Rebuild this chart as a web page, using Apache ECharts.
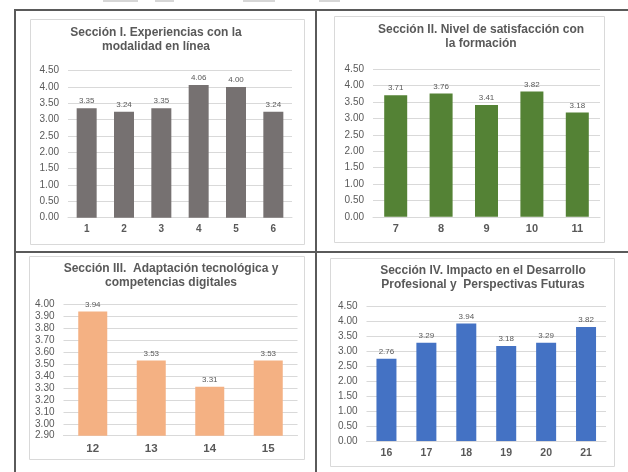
<!DOCTYPE html>
<html>
<head>
<meta charset="utf-8">
<script src="https://cdn.jsdelivr.net/npm/echarts@6/dist/echarts.min.js"></script>
<style>
  html, body { margin: 0; padding: 0; background: #fff; }
  #main { width: 628px; height: 472px; }
</style>
</head>
<body>
<div id="main"></div>
<script>
// datos de cada sección
var cats1 = ['1', '2', '3', '4', '5', '6'];
var vals1 = [3.35, 3.24, 3.35, 4.06, 4.00, 3.24];
var cats2 = ['7', '8', '9', '10', '11'];
var vals2 = [3.71, 3.76, 3.41, 3.82, 3.18];
var cats3 = ['12', '13', '14', '15'];
var vals3 = [3.94, 3.53, 3.31, 3.53];
var cats4 = ['16', '17', '18', '19', '20', '21'];
var vals4 = [2.76, 3.29, 3.94, 3.18, 3.29, 3.82];

var titles = [
  'Sección I. Experiencias con la\nmodalidad en línea',
  'Sección II. Nivel de satisfacción con\nla formación',
  'Sección III.  Adaptación tecnológica y\ncompetencias digitales',
  'Sección IV. Impacto en el Desarrollo\nProfesional y  Perspectivas Futuras'
];

var FONT = '"Liberation Sans", Arial, sans-serif';
var GREY = '#595959';

var myChart = echarts.init(document.getElementById('main'));

function mkTitle(i, x, y) {
  return {
    text: titles[i], left: x, top: y, textAlign: 'center', padding: 0,
    textStyle: { fontFamily: FONT, fontSize: 12, fontWeight: 'bold', color: GREY, lineHeight: 14 }
  };
}

function mkX(i, data, size) {
  return {
    type: 'category', gridIndex: i, data: data,
    axisLine: { lineStyle: { color: '#d9d9d9' } },
    axisTick: { show: false },
    axisLabel: { fontFamily: FONT, fontSize: size, fontWeight: 'bold', color: GREY, margin: 7 }
  };
}

function mkY(i, min, max, step) {
  return {
    type: 'value', gridIndex: i, min: min, max: max, interval: step,
    axisLine: { show: false }, axisTick: { show: false },
    splitLine: { lineStyle: { color: '#d9d9d9' } },
    axisLabel: {
      fontFamily: FONT, fontSize: 10, color: GREY, margin: 9,
      formatter: function (v) { return v.toFixed(2); }
    }
  };
}

function mkBar(i, data, color, w) {
  return {
    type: 'bar', xAxisIndex: i, yAxisIndex: i, data: data, barWidth: w,
    itemStyle: { color: color },
    label: {
      show: true, position: 'top', distance: 3,
      fontFamily: FONT, fontSize: 8, color: GREY,
      formatter: function (p) { return p.value.toFixed(2); }
    }
  };
}

// marcos del documento y de cada gráfico
var line = { stroke: '#5a5a5a', lineWidth: 2 };
var box = { fill: 'none', stroke: '#d9d9d9', lineWidth: 1 };

myChart.setOption({
  animation: false,
  title: [
    mkTitle(0, 156, 26),
    mkTitle(1, 481, 23),
    mkTitle(2, 171, 262),
    mkTitle(3, 483, 264)
  ],
  grid: [
    { left: 68, top: 70.7, width: 224, height: 147 },
    { left: 373, top: 69.3, width: 227, height: 147.5 },
    { left: 63.5, top: 304.3, width: 234, height: 131.4 },
    { left: 366.5, top: 306.7, width: 239.5, height: 134.3 }
  ],
  xAxis: [
    mkX(0, cats1, 10),
    mkX(1, cats2, 11),
    mkX(2, cats3, 11.5),
    mkX(3, cats4, 10.5)
  ],
  yAxis: [
    mkY(0, 0, 4.5, 0.5),
    mkY(1, 0, 4.5, 0.5),
    mkY(2, 2.9, 4.0, 0.1),
    mkY(3, 0, 4.5, 0.5)
  ],
  series: [
    mkBar(0, vals1, '#767171', 20),
    mkBar(1, vals2, '#548235', 23),
    mkBar(2, vals3, '#f4b183', 29),
    mkBar(3, vals4, '#4472c4', 20)
  ],
  graphic: [
    // restos grises arriba
    { type: 'rect', shape: { x: 103, y: 0, width: 35, height: 2 }, style: { fill: '#d6d6d6' } },
    { type: 'rect', shape: { x: 155, y: 0, width: 19, height: 2 }, style: { fill: '#d6d6d6' } },
    { type: 'rect', shape: { x: 243, y: 0, width: 32, height: 2 }, style: { fill: '#d6d6d6' } },
    { type: 'rect', shape: { x: 319, y: 0, width: 21, height: 2 }, style: { fill: '#d6d6d6' } },
    // bordes de los gráficos
    { type: 'rect', shape: { x: 30.5, y: 19.5, width: 274, height: 225 }, style: box },
    { type: 'rect', shape: { x: 334.5, y: 16.5, width: 270, height: 226 }, style: box },
    { type: 'rect', shape: { x: 29.5, y: 256.5, width: 275, height: 203 }, style: box },
    { type: 'rect', shape: { x: 330.5, y: 258.5, width: 284, height: 208 }, style: box },
    // líneas de la tabla
    { type: 'line', shape: { x1: 14, y1: 10, x2: 628, y2: 10 }, style: line },
    { type: 'line', shape: { x1: 15, y1: 10, x2: 15, y2: 472 }, style: line },
    { type: 'line', shape: { x1: 316, y1: 10, x2: 316, y2: 472 }, style: line },
    { type: 'line', shape: { x1: 15, y1: 252, x2: 628, y2: 252 }, style: line }
  ]
});
</script>
</body>
</html>
